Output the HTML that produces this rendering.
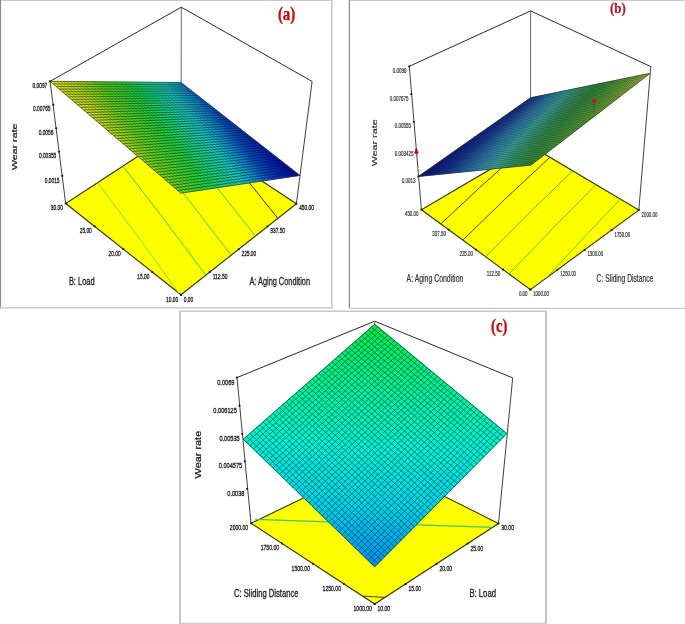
<!DOCTYPE html>
<html><head><meta charset="utf-8"><title>Wear rate response surfaces</title>
<style>
html,body{margin:0;padding:0;background:#fff;}
body{width:685px;height:624px;overflow:hidden;font-family:"Liberation Sans",sans-serif;}
svg{display:block;filter:blur(0.35px);}
</style></head><body>
<svg width="685" height="624" viewBox="0 0 685 624">
<defs><linearGradient id="ga0_0" gradientUnits="userSpaceOnUse" x1="96.3" y1="84.6" x2="68.9" y2="105.7"><stop offset="0.000" stop-color="#68dc1e"/><stop offset="0.083" stop-color="#77dd1e"/><stop offset="0.167" stop-color="#86de1e"/><stop offset="0.250" stop-color="#94df1e"/><stop offset="0.333" stop-color="#a3df1e"/><stop offset="0.417" stop-color="#b2e01e"/><stop offset="0.500" stop-color="#c1e11e"/><stop offset="0.583" stop-color="#c8e21e"/><stop offset="0.667" stop-color="#cde41e"/><stop offset="0.750" stop-color="#d2e51e"/><stop offset="0.833" stop-color="#d7e71e"/><stop offset="0.917" stop-color="#dce91e"/><stop offset="1.000" stop-color="#e2ea1e"/></linearGradient><linearGradient id="ga0_1" gradientUnits="userSpaceOnUse" x1="128.8" y1="111.9" x2="101.2" y2="133.1"><stop offset="0.000" stop-color="#4bdc29"/><stop offset="0.083" stop-color="#54dc25"/><stop offset="0.167" stop-color="#5ddc21"/><stop offset="0.250" stop-color="#67dc1e"/><stop offset="0.333" stop-color="#76dd1e"/><stop offset="0.417" stop-color="#85de1e"/><stop offset="0.500" stop-color="#94de1e"/><stop offset="0.583" stop-color="#a2df1e"/><stop offset="0.667" stop-color="#b1e01e"/><stop offset="0.750" stop-color="#c0e11e"/><stop offset="0.833" stop-color="#c7e21e"/><stop offset="0.917" stop-color="#cce41e"/><stop offset="1.000" stop-color="#d2e51e"/></linearGradient><linearGradient id="ga0_2" gradientUnits="userSpaceOnUse" x1="161.2" y1="139.2" x2="133.4" y2="160.5"><stop offset="0.000" stop-color="#31dc34"/><stop offset="0.083" stop-color="#39dc30"/><stop offset="0.167" stop-color="#42dc2d"/><stop offset="0.250" stop-color="#4bdc29"/><stop offset="0.333" stop-color="#54dc25"/><stop offset="0.417" stop-color="#5cdc21"/><stop offset="0.500" stop-color="#66dc1e"/><stop offset="0.583" stop-color="#75dd1e"/><stop offset="0.667" stop-color="#84de1e"/><stop offset="0.750" stop-color="#93de1e"/><stop offset="0.833" stop-color="#a1df1e"/><stop offset="0.917" stop-color="#b0e01e"/><stop offset="1.000" stop-color="#bfe11e"/></linearGradient><linearGradient id="ga0_3" gradientUnits="userSpaceOnUse" x1="193.6" y1="166.5" x2="165.6" y2="187.9"><stop offset="0.000" stop-color="#1cdc4a"/><stop offset="0.083" stop-color="#1fdc3c"/><stop offset="0.167" stop-color="#27dc38"/><stop offset="0.250" stop-color="#30dc34"/><stop offset="0.333" stop-color="#39dc31"/><stop offset="0.417" stop-color="#42dc2d"/><stop offset="0.500" stop-color="#4adc29"/><stop offset="0.583" stop-color="#53dc25"/><stop offset="0.667" stop-color="#5cdc22"/><stop offset="0.750" stop-color="#65dc1e"/><stop offset="0.833" stop-color="#74dd1e"/><stop offset="0.917" stop-color="#83de1e"/><stop offset="1.000" stop-color="#92de1e"/></linearGradient><linearGradient id="ga1_0" gradientUnits="userSpaceOnUse" x1="128.6" y1="84.3" x2="101.4" y2="105.5"><stop offset="0.000" stop-color="#1ddc46"/><stop offset="0.083" stop-color="#21dc3b"/><stop offset="0.167" stop-color="#2adc37"/><stop offset="0.250" stop-color="#32dc33"/><stop offset="0.333" stop-color="#3bdc30"/><stop offset="0.417" stop-color="#44dc2c"/><stop offset="0.500" stop-color="#4ddc28"/><stop offset="0.583" stop-color="#55dc24"/><stop offset="0.667" stop-color="#5edc20"/><stop offset="0.750" stop-color="#69dc1e"/><stop offset="0.833" stop-color="#78dd1e"/><stop offset="0.917" stop-color="#87de1e"/><stop offset="1.000" stop-color="#95df1e"/></linearGradient><linearGradient id="ga1_1" gradientUnits="userSpaceOnUse" x1="160.3" y1="110.4" x2="132.9" y2="131.7"><stop offset="0.000" stop-color="#17dc74"/><stop offset="0.083" stop-color="#19dc65"/><stop offset="0.167" stop-color="#1bdc56"/><stop offset="0.250" stop-color="#1ddc47"/><stop offset="0.333" stop-color="#20dc3b"/><stop offset="0.417" stop-color="#29dc37"/><stop offset="0.500" stop-color="#32dc34"/><stop offset="0.583" stop-color="#3bdc30"/><stop offset="0.667" stop-color="#43dc2c"/><stop offset="0.750" stop-color="#4cdc28"/><stop offset="0.833" stop-color="#55dc24"/><stop offset="0.917" stop-color="#5edc21"/><stop offset="1.000" stop-color="#68dc1e"/></linearGradient><linearGradient id="ga1_2" gradientUnits="userSpaceOnUse" x1="192" y1="136.5" x2="164.3" y2="157.9"><stop offset="0.000" stop-color="#14d99f"/><stop offset="0.083" stop-color="#14db92"/><stop offset="0.167" stop-color="#15dc84"/><stop offset="0.250" stop-color="#17dc75"/><stop offset="0.333" stop-color="#19dc66"/><stop offset="0.417" stop-color="#1bdc57"/><stop offset="0.500" stop-color="#1cdc48"/><stop offset="0.583" stop-color="#20dc3b"/><stop offset="0.667" stop-color="#28dc38"/><stop offset="0.750" stop-color="#31dc34"/><stop offset="0.833" stop-color="#3adc30"/><stop offset="0.917" stop-color="#43dc2c"/><stop offset="1.000" stop-color="#4bdc29"/></linearGradient><linearGradient id="ga1_3" gradientUnits="userSpaceOnUse" x1="223.6" y1="162.6" x2="195.8" y2="184.1"><stop offset="0.000" stop-color="#14d4c8"/><stop offset="0.083" stop-color="#14d5ba"/><stop offset="0.167" stop-color="#14d7ad"/><stop offset="0.250" stop-color="#14d9a0"/><stop offset="0.333" stop-color="#14db93"/><stop offset="0.417" stop-color="#15dc85"/><stop offset="0.500" stop-color="#17dc76"/><stop offset="0.583" stop-color="#19dc67"/><stop offset="0.667" stop-color="#1adc58"/><stop offset="0.750" stop-color="#1cdc49"/><stop offset="0.833" stop-color="#1fdc3c"/><stop offset="0.917" stop-color="#28dc38"/><stop offset="1.000" stop-color="#31dc34"/></linearGradient><linearGradient id="ga2_0" gradientUnits="userSpaceOnUse" x1="160.9" y1="84" x2="133.8" y2="105.2"><stop offset="0.000" stop-color="#14d4c4"/><stop offset="0.083" stop-color="#14d6b7"/><stop offset="0.167" stop-color="#14d8aa"/><stop offset="0.250" stop-color="#14da9d"/><stop offset="0.333" stop-color="#14dc90"/><stop offset="0.417" stop-color="#15dc81"/><stop offset="0.500" stop-color="#17dc72"/><stop offset="0.583" stop-color="#19dc63"/><stop offset="0.667" stop-color="#1bdc54"/><stop offset="0.750" stop-color="#1ddc45"/><stop offset="0.833" stop-color="#21dc3b"/><stop offset="0.917" stop-color="#2adc37"/><stop offset="1.000" stop-color="#33dc33"/></linearGradient><linearGradient id="ga2_1" gradientUnits="userSpaceOnUse" x1="191.8" y1="108.9" x2="164.6" y2="130.3"><stop offset="0.000" stop-color="#0fb6d7"/><stop offset="0.083" stop-color="#12c4d4"/><stop offset="0.167" stop-color="#14d2d2"/><stop offset="0.250" stop-color="#14d4c5"/><stop offset="0.333" stop-color="#14d6b8"/><stop offset="0.417" stop-color="#14d8ab"/><stop offset="0.500" stop-color="#14da9e"/><stop offset="0.583" stop-color="#14db90"/><stop offset="0.667" stop-color="#15dc82"/><stop offset="0.750" stop-color="#17dc73"/><stop offset="0.833" stop-color="#19dc64"/><stop offset="0.917" stop-color="#1bdc55"/><stop offset="1.000" stop-color="#1ddc46"/></linearGradient><linearGradient id="ga2_2" gradientUnits="userSpaceOnUse" x1="222.7" y1="133.8" x2="195.3" y2="155.3"><stop offset="0.000" stop-color="#0887da"/><stop offset="0.083" stop-color="#0a99dc"/><stop offset="0.167" stop-color="#0da7d9"/><stop offset="0.250" stop-color="#0fb5d7"/><stop offset="0.333" stop-color="#12c3d4"/><stop offset="0.417" stop-color="#14d1d2"/><stop offset="0.500" stop-color="#14d4c6"/><stop offset="0.583" stop-color="#14d6b9"/><stop offset="0.667" stop-color="#14d8ab"/><stop offset="0.750" stop-color="#14d99e"/><stop offset="0.833" stop-color="#14db91"/><stop offset="0.917" stop-color="#15dc83"/><stop offset="1.000" stop-color="#17dc74"/></linearGradient><linearGradient id="ga2_3" gradientUnits="userSpaceOnUse" x1="253.6" y1="158.8" x2="226" y2="180.3"><stop offset="0.000" stop-color="#004fd2"/><stop offset="0.083" stop-color="#0260d4"/><stop offset="0.167" stop-color="#0573d7"/><stop offset="0.250" stop-color="#0886da"/><stop offset="0.333" stop-color="#0a98dc"/><stop offset="0.417" stop-color="#0da6d9"/><stop offset="0.500" stop-color="#0fb4d7"/><stop offset="0.583" stop-color="#11c2d5"/><stop offset="0.667" stop-color="#14d0d2"/><stop offset="0.750" stop-color="#14d4c7"/><stop offset="0.833" stop-color="#14d6ba"/><stop offset="0.917" stop-color="#14d7ac"/><stop offset="1.000" stop-color="#14d99f"/></linearGradient><linearGradient id="ga3_0" gradientUnits="userSpaceOnUse" x1="193.2" y1="83.7" x2="166.3" y2="105"><stop offset="0.000" stop-color="#0052d2"/><stop offset="0.083" stop-color="#0365d5"/><stop offset="0.167" stop-color="#0678d8"/><stop offset="0.250" stop-color="#088bda"/><stop offset="0.333" stop-color="#0b9cdb"/><stop offset="0.417" stop-color="#0daad9"/><stop offset="0.500" stop-color="#10b8d6"/><stop offset="0.583" stop-color="#12c6d4"/><stop offset="0.667" stop-color="#14d2d0"/><stop offset="0.750" stop-color="#14d4c3"/><stop offset="0.833" stop-color="#14d6b6"/><stop offset="0.917" stop-color="#14d8a9"/><stop offset="1.000" stop-color="#14da9c"/></linearGradient><linearGradient id="ga3_1" gradientUnits="userSpaceOnUse" x1="223.4" y1="107.4" x2="196.3" y2="128.8"><stop offset="0.000" stop-color="#0032c7"/><stop offset="0.083" stop-color="#003ccb"/><stop offset="0.167" stop-color="#0046ce"/><stop offset="0.250" stop-color="#0051d2"/><stop offset="0.333" stop-color="#0364d5"/><stop offset="0.417" stop-color="#0677d8"/><stop offset="0.500" stop-color="#088ada"/><stop offset="0.583" stop-color="#0b9bdb"/><stop offset="0.667" stop-color="#0da9d9"/><stop offset="0.750" stop-color="#0fb7d7"/><stop offset="0.833" stop-color="#12c5d4"/><stop offset="0.917" stop-color="#14d2d1"/><stop offset="1.000" stop-color="#14d4c4"/></linearGradient><linearGradient id="ga3_2" gradientUnits="userSpaceOnUse" x1="253.5" y1="131.2" x2="226.2" y2="152.7"><stop offset="0.000" stop-color="#0016ba"/><stop offset="0.083" stop-color="#001cbf"/><stop offset="0.167" stop-color="#0027c3"/><stop offset="0.250" stop-color="#0031c7"/><stop offset="0.333" stop-color="#003bca"/><stop offset="0.417" stop-color="#0046ce"/><stop offset="0.500" stop-color="#0050d2"/><stop offset="0.583" stop-color="#0363d5"/><stop offset="0.667" stop-color="#0575d7"/><stop offset="0.750" stop-color="#0888da"/><stop offset="0.833" stop-color="#0b9adb"/><stop offset="0.917" stop-color="#0da8d9"/><stop offset="1.000" stop-color="#0fb6d7"/></linearGradient><linearGradient id="ga3_3" gradientUnits="userSpaceOnUse" x1="283.7" y1="154.9" x2="256.2" y2="176.5"><stop offset="0.000" stop-color="#0008a9"/><stop offset="0.083" stop-color="#000caf"/><stop offset="0.167" stop-color="#0011b4"/><stop offset="0.250" stop-color="#0016ba"/><stop offset="0.333" stop-color="#001cbf"/><stop offset="0.417" stop-color="#0026c3"/><stop offset="0.500" stop-color="#0030c6"/><stop offset="0.583" stop-color="#003bca"/><stop offset="0.667" stop-color="#0045ce"/><stop offset="0.750" stop-color="#004fd2"/><stop offset="0.833" stop-color="#0261d4"/><stop offset="0.917" stop-color="#0574d7"/><stop offset="1.000" stop-color="#0887da"/></linearGradient><linearGradient id="gb0_0" gradientUnits="userSpaceOnUse" x1="439.8" y1="157.4" x2="453.9" y2="172.8"><stop offset="0.000" stop-color="#0a148c"/><stop offset="0.083" stop-color="#0c188f"/><stop offset="0.167" stop-color="#0d1d93"/><stop offset="0.250" stop-color="#0f2196"/><stop offset="0.333" stop-color="#112599"/><stop offset="0.417" stop-color="#122a9c"/><stop offset="0.500" stop-color="#142ea0"/><stop offset="0.583" stop-color="#1533a3"/><stop offset="0.667" stop-color="#1737a6"/><stop offset="0.750" stop-color="#193ba9"/><stop offset="0.833" stop-color="#1c44ad"/><stop offset="0.917" stop-color="#1f4eb0"/><stop offset="1.000" stop-color="#2258b3"/></linearGradient><linearGradient id="gb0_1" gradientUnits="userSpaceOnUse" x1="467" y1="153.7" x2="483.4" y2="170.1"><stop offset="0.000" stop-color="#193daa"/><stop offset="0.083" stop-color="#1d48ae"/><stop offset="0.167" stop-color="#2052b1"/><stop offset="0.250" stop-color="#235db4"/><stop offset="0.333" stop-color="#2667b7"/><stop offset="0.417" stop-color="#2a72bb"/><stop offset="0.500" stop-color="#2d7cbe"/><stop offset="0.583" stop-color="#3086c1"/><stop offset="0.667" stop-color="#338fc2"/><stop offset="0.750" stop-color="#3596c0"/><stop offset="0.833" stop-color="#389dbd"/><stop offset="0.917" stop-color="#3aa4bb"/><stop offset="1.000" stop-color="#3caab9"/></linearGradient><linearGradient id="gb0_2" gradientUnits="userSpaceOnUse" x1="494.2" y1="150" x2="513" y2="167.2"><stop offset="0.000" stop-color="#3595c0"/><stop offset="0.083" stop-color="#389dbd"/><stop offset="0.167" stop-color="#3aa4bb"/><stop offset="0.250" stop-color="#3cabb9"/><stop offset="0.333" stop-color="#3fb2b6"/><stop offset="0.417" stop-color="#41b9b4"/><stop offset="0.500" stop-color="#40b5a6"/><stop offset="0.583" stop-color="#3fb197"/><stop offset="0.667" stop-color="#3eae89"/><stop offset="0.750" stop-color="#3daa7b"/><stop offset="0.833" stop-color="#3ca66d"/><stop offset="0.917" stop-color="#3ba464"/><stop offset="1.000" stop-color="#3aa25d"/></linearGradient><linearGradient id="gb0_3" gradientUnits="userSpaceOnUse" x1="521.2" y1="146.4" x2="542.7" y2="164.3"><stop offset="0.000" stop-color="#3eac81"/><stop offset="0.083" stop-color="#3da873"/><stop offset="0.167" stop-color="#3ca466"/><stop offset="0.250" stop-color="#3ba25f"/><stop offset="0.333" stop-color="#3aa058"/><stop offset="0.417" stop-color="#399e50"/><stop offset="0.500" stop-color="#389c49"/><stop offset="0.583" stop-color="#399c44"/><stop offset="0.667" stop-color="#3e9e43"/><stop offset="0.750" stop-color="#43a142"/><stop offset="0.833" stop-color="#48a441"/><stop offset="0.917" stop-color="#4ea641"/><stop offset="1.000" stop-color="#53a940"/></linearGradient><linearGradient id="gb1_0" gradientUnits="userSpaceOnUse" x1="468.4" y1="137.6" x2="481.7" y2="152.5"><stop offset="0.000" stop-color="#0e1d93"/><stop offset="0.083" stop-color="#0f2296"/><stop offset="0.167" stop-color="#11269a"/><stop offset="0.250" stop-color="#132b9d"/><stop offset="0.333" stop-color="#1430a1"/><stop offset="0.417" stop-color="#1634a4"/><stop offset="0.500" stop-color="#1839a8"/><stop offset="0.583" stop-color="#1a3fab"/><stop offset="0.667" stop-color="#1d49ae"/><stop offset="0.750" stop-color="#2054b1"/><stop offset="0.833" stop-color="#245eb5"/><stop offset="0.917" stop-color="#2769b8"/><stop offset="1.000" stop-color="#2a73bb"/></linearGradient><linearGradient id="gb1_1" gradientUnits="userSpaceOnUse" x1="496.2" y1="133" x2="511.6" y2="148.9"><stop offset="0.000" stop-color="#2258b3"/><stop offset="0.083" stop-color="#2563b6"/><stop offset="0.167" stop-color="#296eba"/><stop offset="0.250" stop-color="#2c79bd"/><stop offset="0.333" stop-color="#2f84c0"/><stop offset="0.417" stop-color="#338ec2"/><stop offset="0.500" stop-color="#3595c0"/><stop offset="0.583" stop-color="#379cbe"/><stop offset="0.667" stop-color="#3aa3bb"/><stop offset="0.750" stop-color="#3caab9"/><stop offset="0.833" stop-color="#3eb1b7"/><stop offset="0.917" stop-color="#41b8b4"/><stop offset="1.000" stop-color="#40b6a7"/></linearGradient><linearGradient id="gb1_2" gradientUnits="userSpaceOnUse" x1="523.8" y1="128.5" x2="541.6" y2="145.3"><stop offset="0.000" stop-color="#3caab9"/><stop offset="0.083" stop-color="#3fb2b6"/><stop offset="0.167" stop-color="#41b9b3"/><stop offset="0.250" stop-color="#40b5a5"/><stop offset="0.333" stop-color="#3fb196"/><stop offset="0.417" stop-color="#3ead87"/><stop offset="0.500" stop-color="#3da978"/><stop offset="0.583" stop-color="#3ca569"/><stop offset="0.667" stop-color="#3ba362"/><stop offset="0.750" stop-color="#3aa15a"/><stop offset="0.833" stop-color="#399f53"/><stop offset="0.917" stop-color="#389d4c"/><stop offset="1.000" stop-color="#379b44"/></linearGradient><linearGradient id="gb1_3" gradientUnits="userSpaceOnUse" x1="551.4" y1="124.1" x2="571.6" y2="141.6"><stop offset="0.000" stop-color="#3aa25d"/><stop offset="0.083" stop-color="#39a055"/><stop offset="0.167" stop-color="#389e4e"/><stop offset="0.250" stop-color="#379c46"/><stop offset="0.333" stop-color="#3b9d43"/><stop offset="0.417" stop-color="#41a043"/><stop offset="0.500" stop-color="#46a342"/><stop offset="0.583" stop-color="#4ca541"/><stop offset="0.667" stop-color="#51a840"/><stop offset="0.750" stop-color="#57ab3f"/><stop offset="0.833" stop-color="#5cae3e"/><stop offset="0.917" stop-color="#63b03f"/><stop offset="1.000" stop-color="#6db440"/></linearGradient><linearGradient id="gb2_0" gradientUnits="userSpaceOnUse" x1="497" y1="117.8" x2="509.6" y2="132.2"><stop offset="0.000" stop-color="#11279a"/><stop offset="0.083" stop-color="#132c9e"/><stop offset="0.167" stop-color="#1530a1"/><stop offset="0.250" stop-color="#1635a5"/><stop offset="0.333" stop-color="#183aa8"/><stop offset="0.417" stop-color="#1b42ac"/><stop offset="0.500" stop-color="#1e4daf"/><stop offset="0.583" stop-color="#2257b3"/><stop offset="0.667" stop-color="#2562b6"/><stop offset="0.750" stop-color="#286db9"/><stop offset="0.833" stop-color="#2c78bd"/><stop offset="0.917" stop-color="#2f83c0"/><stop offset="1.000" stop-color="#328dc3"/></linearGradient><linearGradient id="gb2_1" gradientUnits="userSpaceOnUse" x1="525.3" y1="112.4" x2="539.9" y2="127.8"><stop offset="0.000" stop-color="#2a73bb"/><stop offset="0.083" stop-color="#2e7ebf"/><stop offset="0.167" stop-color="#318ac2"/><stop offset="0.250" stop-color="#3492c1"/><stop offset="0.333" stop-color="#3699bf"/><stop offset="0.417" stop-color="#39a1bc"/><stop offset="0.500" stop-color="#3ba8ba"/><stop offset="0.583" stop-color="#3eb0b7"/><stop offset="0.667" stop-color="#40b7b5"/><stop offset="0.750" stop-color="#40b6a9"/><stop offset="0.833" stop-color="#3fb29a"/><stop offset="0.917" stop-color="#3eae8c"/><stop offset="1.000" stop-color="#3daa7d"/></linearGradient><linearGradient id="gb2_2" gradientUnits="userSpaceOnUse" x1="553.4" y1="107.1" x2="570.2" y2="123.3"><stop offset="0.000" stop-color="#40b6a7"/><stop offset="0.083" stop-color="#3fb197"/><stop offset="0.167" stop-color="#3ead88"/><stop offset="0.250" stop-color="#3da979"/><stop offset="0.333" stop-color="#3ca569"/><stop offset="0.417" stop-color="#3ba361"/><stop offset="0.500" stop-color="#3aa15a"/><stop offset="0.583" stop-color="#399f52"/><stop offset="0.667" stop-color="#389d4b"/><stop offset="0.750" stop-color="#389b44"/><stop offset="0.833" stop-color="#3d9e43"/><stop offset="0.917" stop-color="#43a142"/><stop offset="1.000" stop-color="#48a441"/></linearGradient><linearGradient id="gb2_3" gradientUnits="userSpaceOnUse" x1="581.5" y1="101.8" x2="600.6" y2="118.8"><stop offset="0.000" stop-color="#379b44"/><stop offset="0.083" stop-color="#3c9e43"/><stop offset="0.167" stop-color="#42a142"/><stop offset="0.250" stop-color="#48a341"/><stop offset="0.333" stop-color="#4da641"/><stop offset="0.417" stop-color="#53a940"/><stop offset="0.500" stop-color="#59ac3f"/><stop offset="0.583" stop-color="#5faf3e"/><stop offset="0.667" stop-color="#68b23f"/><stop offset="0.750" stop-color="#72b540"/><stop offset="0.833" stop-color="#7bb941"/><stop offset="0.917" stop-color="#85bc43"/><stop offset="1.000" stop-color="#8fbf44"/></linearGradient><linearGradient id="gb3_0" gradientUnits="userSpaceOnUse" x1="525.6" y1="98" x2="537.5" y2="111.8"><stop offset="0.000" stop-color="#1530a1"/><stop offset="0.083" stop-color="#1635a5"/><stop offset="0.167" stop-color="#183aa9"/><stop offset="0.250" stop-color="#1b43ac"/><stop offset="0.333" stop-color="#1f4eb0"/><stop offset="0.417" stop-color="#2259b3"/><stop offset="0.500" stop-color="#2665b7"/><stop offset="0.583" stop-color="#2970ba"/><stop offset="0.667" stop-color="#2d7bbe"/><stop offset="0.750" stop-color="#3087c1"/><stop offset="0.833" stop-color="#3390c2"/><stop offset="0.917" stop-color="#3697bf"/><stop offset="1.000" stop-color="#389fbd"/></linearGradient><linearGradient id="gb3_1" gradientUnits="userSpaceOnUse" x1="554.3" y1="91.8" x2="568.1" y2="106.6"><stop offset="0.000" stop-color="#328dc3"/><stop offset="0.083" stop-color="#3595c0"/><stop offset="0.167" stop-color="#389dbd"/><stop offset="0.250" stop-color="#3aa4bb"/><stop offset="0.333" stop-color="#3dacb8"/><stop offset="0.417" stop-color="#3fb4b6"/><stop offset="0.500" stop-color="#41b8af"/><stop offset="0.583" stop-color="#40b4a0"/><stop offset="0.667" stop-color="#3faf90"/><stop offset="0.750" stop-color="#3eab81"/><stop offset="0.833" stop-color="#3da771"/><stop offset="0.917" stop-color="#3ca466"/><stop offset="1.000" stop-color="#3ba25e"/></linearGradient><linearGradient id="gb3_2" gradientUnits="userSpaceOnUse" x1="583" y1="85.6" x2="598.8" y2="101.3"><stop offset="0.000" stop-color="#3daa7d"/><stop offset="0.083" stop-color="#3ca66d"/><stop offset="0.167" stop-color="#3ba363"/><stop offset="0.250" stop-color="#3aa15b"/><stop offset="0.333" stop-color="#399f53"/><stop offset="0.417" stop-color="#389d4b"/><stop offset="0.500" stop-color="#379b44"/><stop offset="0.583" stop-color="#3d9e43"/><stop offset="0.667" stop-color="#43a142"/><stop offset="0.750" stop-color="#49a441"/><stop offset="0.833" stop-color="#4ea741"/><stop offset="0.917" stop-color="#54a940"/><stop offset="1.000" stop-color="#5aac3f"/></linearGradient><linearGradient id="gb3_3" gradientUnits="userSpaceOnUse" x1="611.7" y1="79.5" x2="629.6" y2="96"><stop offset="0.000" stop-color="#48a441"/><stop offset="0.083" stop-color="#4ea741"/><stop offset="0.167" stop-color="#54a940"/><stop offset="0.250" stop-color="#5aac3f"/><stop offset="0.333" stop-color="#60af3e"/><stop offset="0.417" stop-color="#6ab33f"/><stop offset="0.500" stop-color="#74b641"/><stop offset="0.583" stop-color="#7fba42"/><stop offset="0.667" stop-color="#89bd43"/><stop offset="0.750" stop-color="#93c144"/><stop offset="0.833" stop-color="#9ec547"/><stop offset="0.917" stop-color="#a9c949"/><stop offset="1.000" stop-color="#b4cd4b"/></linearGradient><linearGradient id="gc0_0" gradientUnits="userSpaceOnUse" x1="374" y1="381" x2="375.6" y2="323.9"><stop offset="0.000" stop-color="#00f090"/><stop offset="0.083" stop-color="#00ef8a"/><stop offset="0.167" stop-color="#00ef84"/><stop offset="0.250" stop-color="#00ee7e"/><stop offset="0.333" stop-color="#00ee78"/><stop offset="0.417" stop-color="#00ee72"/><stop offset="0.500" stop-color="#00ed6c"/><stop offset="0.583" stop-color="#00ed66"/><stop offset="0.667" stop-color="#00ed60"/><stop offset="0.750" stop-color="#00ec5a"/><stop offset="0.833" stop-color="#00ec54"/><stop offset="0.917" stop-color="#00eb4e"/><stop offset="1.000" stop-color="#00eb48"/></linearGradient><linearGradient id="gc0_1" gradientUnits="userSpaceOnUse" x1="340.3" y1="410.8" x2="343.5" y2="352.7"><stop offset="0.000" stop-color="#00f0b2"/><stop offset="0.083" stop-color="#00f0ad"/><stop offset="0.167" stop-color="#00f0a7"/><stop offset="0.250" stop-color="#00f0a2"/><stop offset="0.333" stop-color="#00f09d"/><stop offset="0.417" stop-color="#00f097"/><stop offset="0.500" stop-color="#00f092"/><stop offset="0.583" stop-color="#00ef8c"/><stop offset="0.667" stop-color="#00ef86"/><stop offset="0.750" stop-color="#00ef80"/><stop offset="0.833" stop-color="#00ee7a"/><stop offset="0.917" stop-color="#00ee74"/><stop offset="1.000" stop-color="#00ee6e"/></linearGradient><linearGradient id="gc0_2" gradientUnits="userSpaceOnUse" x1="306.5" y1="440.6" x2="311.6" y2="381.5"><stop offset="0.000" stop-color="#00f0d4"/><stop offset="0.083" stop-color="#00f0cf"/><stop offset="0.167" stop-color="#00f0ca"/><stop offset="0.250" stop-color="#00f0c4"/><stop offset="0.333" stop-color="#00f0bf"/><stop offset="0.417" stop-color="#00f0ba"/><stop offset="0.500" stop-color="#00f0b4"/><stop offset="0.583" stop-color="#00f0af"/><stop offset="0.667" stop-color="#00f0aa"/><stop offset="0.750" stop-color="#00f0a4"/><stop offset="0.833" stop-color="#00f09f"/><stop offset="0.917" stop-color="#00f09a"/><stop offset="1.000" stop-color="#00f094"/></linearGradient><linearGradient id="gc0_3" gradientUnits="userSpaceOnUse" x1="272.7" y1="470.3" x2="279.6" y2="410.4"><stop offset="0.000" stop-color="#00e0e2"/><stop offset="0.083" stop-color="#00e3e0"/><stop offset="0.167" stop-color="#00e5de"/><stop offset="0.250" stop-color="#00e8dc"/><stop offset="0.333" stop-color="#00ebda"/><stop offset="0.417" stop-color="#00edd9"/><stop offset="0.500" stop-color="#00f0d7"/><stop offset="0.583" stop-color="#00f0d1"/><stop offset="0.667" stop-color="#00f0cc"/><stop offset="0.750" stop-color="#00f0c7"/><stop offset="0.833" stop-color="#00f0c2"/><stop offset="0.917" stop-color="#00f0bc"/><stop offset="1.000" stop-color="#00f0b7"/></linearGradient><linearGradient id="gc1_0" gradientUnits="userSpaceOnUse" x1="407.8" y1="409.5" x2="407.8" y2="351.2"><stop offset="0.000" stop-color="#00f0af"/><stop offset="0.083" stop-color="#00f0a9"/><stop offset="0.167" stop-color="#00f0a4"/><stop offset="0.250" stop-color="#00f09e"/><stop offset="0.333" stop-color="#00f099"/><stop offset="0.417" stop-color="#00f094"/><stop offset="0.500" stop-color="#00ef8e"/><stop offset="0.583" stop-color="#00ef88"/><stop offset="0.667" stop-color="#00ef82"/><stop offset="0.750" stop-color="#00ee7c"/><stop offset="0.833" stop-color="#00ee76"/><stop offset="0.917" stop-color="#00ee70"/><stop offset="1.000" stop-color="#00ed6a"/></linearGradient><linearGradient id="gc1_1" gradientUnits="userSpaceOnUse" x1="374" y1="440.5" x2="375.8" y2="381.1"><stop offset="0.000" stop-color="#00f0d0"/><stop offset="0.083" stop-color="#00f0ca"/><stop offset="0.167" stop-color="#00f0c5"/><stop offset="0.250" stop-color="#00f0c0"/><stop offset="0.333" stop-color="#00f0bb"/><stop offset="0.417" stop-color="#00f0b5"/><stop offset="0.500" stop-color="#00f0b0"/><stop offset="0.583" stop-color="#00f0ab"/><stop offset="0.667" stop-color="#00f0a5"/><stop offset="0.750" stop-color="#00f0a0"/><stop offset="0.833" stop-color="#00f09b"/><stop offset="0.917" stop-color="#00f095"/><stop offset="1.000" stop-color="#00f090"/></linearGradient><linearGradient id="gc1_2" gradientUnits="userSpaceOnUse" x1="340.2" y1="471.4" x2="343.8" y2="411"><stop offset="0.000" stop-color="#00e2e0"/><stop offset="0.083" stop-color="#00e5de"/><stop offset="0.167" stop-color="#00e8dc"/><stop offset="0.250" stop-color="#00ebdb"/><stop offset="0.333" stop-color="#00edd9"/><stop offset="0.417" stop-color="#00f0d7"/><stop offset="0.500" stop-color="#00f0d2"/><stop offset="0.583" stop-color="#00f0cc"/><stop offset="0.667" stop-color="#00f0c7"/><stop offset="0.750" stop-color="#00f0c2"/><stop offset="0.833" stop-color="#00f0bd"/><stop offset="0.917" stop-color="#00f0b7"/><stop offset="1.000" stop-color="#00f0b2"/></linearGradient><linearGradient id="gc1_3" gradientUnits="userSpaceOnUse" x1="306.3" y1="502.3" x2="311.8" y2="441"><stop offset="0.000" stop-color="#00d0eb"/><stop offset="0.083" stop-color="#00d4ea"/><stop offset="0.167" stop-color="#00d7e8"/><stop offset="0.250" stop-color="#00d9e6"/><stop offset="0.333" stop-color="#00dce4"/><stop offset="0.417" stop-color="#00dfe3"/><stop offset="0.500" stop-color="#00e1e1"/><stop offset="0.583" stop-color="#00e4df"/><stop offset="0.667" stop-color="#00e7dd"/><stop offset="0.750" stop-color="#00e9db"/><stop offset="0.833" stop-color="#00ecda"/><stop offset="0.917" stop-color="#00efd8"/><stop offset="1.000" stop-color="#00f0d4"/></linearGradient><linearGradient id="gc2_0" gradientUnits="userSpaceOnUse" x1="441.6" y1="438" x2="440.1" y2="378.5"><stop offset="0.000" stop-color="#00f0cd"/><stop offset="0.083" stop-color="#00f0c8"/><stop offset="0.167" stop-color="#00f0c2"/><stop offset="0.250" stop-color="#00f0bd"/><stop offset="0.333" stop-color="#00f0b8"/><stop offset="0.417" stop-color="#00f0b2"/><stop offset="0.500" stop-color="#00f0ad"/><stop offset="0.583" stop-color="#00f0a8"/><stop offset="0.667" stop-color="#00f0a3"/><stop offset="0.750" stop-color="#00f09d"/><stop offset="0.833" stop-color="#00f098"/><stop offset="0.917" stop-color="#00f092"/><stop offset="1.000" stop-color="#00ef8c"/></linearGradient><linearGradient id="gc2_1" gradientUnits="userSpaceOnUse" x1="407.8" y1="470.1" x2="408" y2="409.5"><stop offset="0.000" stop-color="#00e4df"/><stop offset="0.083" stop-color="#00e7dd"/><stop offset="0.167" stop-color="#00eadb"/><stop offset="0.250" stop-color="#00edd9"/><stop offset="0.333" stop-color="#00efd8"/><stop offset="0.417" stop-color="#00f0d3"/><stop offset="0.500" stop-color="#00f0ce"/><stop offset="0.583" stop-color="#00f0c9"/><stop offset="0.667" stop-color="#00f0c4"/><stop offset="0.750" stop-color="#00f0be"/><stop offset="0.833" stop-color="#00f0b9"/><stop offset="0.917" stop-color="#00f0b4"/><stop offset="1.000" stop-color="#00f0af"/></linearGradient><linearGradient id="gc2_2" gradientUnits="userSpaceOnUse" x1="373.9" y1="502.3" x2="375.9" y2="440.5"><stop offset="0.000" stop-color="#00d4ea"/><stop offset="0.083" stop-color="#00d6e8"/><stop offset="0.167" stop-color="#00d9e6"/><stop offset="0.250" stop-color="#00dce5"/><stop offset="0.333" stop-color="#00dee3"/><stop offset="0.417" stop-color="#00e1e1"/><stop offset="0.500" stop-color="#00e4df"/><stop offset="0.583" stop-color="#00e6dd"/><stop offset="0.667" stop-color="#00e9dc"/><stop offset="0.750" stop-color="#00ecda"/><stop offset="0.833" stop-color="#00eed8"/><stop offset="0.917" stop-color="#00f0d5"/><stop offset="1.000" stop-color="#00f0d0"/></linearGradient><linearGradient id="gc2_3" gradientUnits="userSpaceOnUse" x1="339.9" y1="534.3" x2="343.9" y2="471.6"><stop offset="0.000" stop-color="#00aeee"/><stop offset="0.083" stop-color="#00b4ed"/><stop offset="0.167" stop-color="#00bbed"/><stop offset="0.250" stop-color="#00c1ec"/><stop offset="0.333" stop-color="#00c7ec"/><stop offset="0.417" stop-color="#00cdeb"/><stop offset="0.500" stop-color="#00d3eb"/><stop offset="0.583" stop-color="#00d5e9"/><stop offset="0.667" stop-color="#00d8e7"/><stop offset="0.750" stop-color="#00dbe5"/><stop offset="0.833" stop-color="#00dde4"/><stop offset="0.917" stop-color="#00e0e2"/><stop offset="1.000" stop-color="#00e2e0"/></linearGradient><linearGradient id="gc3_0" gradientUnits="userSpaceOnUse" x1="475.4" y1="466.4" x2="472.3" y2="405.9"><stop offset="0.000" stop-color="#00e6de"/><stop offset="0.083" stop-color="#00e8dc"/><stop offset="0.167" stop-color="#00ebda"/><stop offset="0.250" stop-color="#00eed9"/><stop offset="0.333" stop-color="#00f0d6"/><stop offset="0.417" stop-color="#00f0d1"/><stop offset="0.500" stop-color="#00f0cc"/><stop offset="0.583" stop-color="#00f0c7"/><stop offset="0.667" stop-color="#00f0c1"/><stop offset="0.750" stop-color="#00f0bc"/><stop offset="0.833" stop-color="#00f0b7"/><stop offset="0.917" stop-color="#00f0b2"/><stop offset="1.000" stop-color="#00f0ac"/></linearGradient><linearGradient id="gc3_1" gradientUnits="userSpaceOnUse" x1="441.6" y1="499.7" x2="440.1" y2="438"><stop offset="0.000" stop-color="#00d5e9"/><stop offset="0.083" stop-color="#00d8e7"/><stop offset="0.167" stop-color="#00dae5"/><stop offset="0.250" stop-color="#00dde4"/><stop offset="0.333" stop-color="#00e0e2"/><stop offset="0.417" stop-color="#00e2e0"/><stop offset="0.500" stop-color="#00e5de"/><stop offset="0.583" stop-color="#00e8dc"/><stop offset="0.667" stop-color="#00eadb"/><stop offset="0.750" stop-color="#00edd9"/><stop offset="0.833" stop-color="#00f0d7"/><stop offset="0.917" stop-color="#00f0d2"/><stop offset="1.000" stop-color="#00f0cd"/></linearGradient><linearGradient id="gc3_2" gradientUnits="userSpaceOnUse" x1="407.6" y1="533" x2="408" y2="470.1"><stop offset="0.000" stop-color="#00b2ed"/><stop offset="0.083" stop-color="#00b9ed"/><stop offset="0.167" stop-color="#00bfec"/><stop offset="0.250" stop-color="#00c5ec"/><stop offset="0.333" stop-color="#00cbeb"/><stop offset="0.417" stop-color="#00d1eb"/><stop offset="0.500" stop-color="#00d4e9"/><stop offset="0.583" stop-color="#00d7e8"/><stop offset="0.667" stop-color="#00dae6"/><stop offset="0.750" stop-color="#00dce4"/><stop offset="0.833" stop-color="#00dfe2"/><stop offset="0.917" stop-color="#00e2e1"/><stop offset="1.000" stop-color="#00e4df"/></linearGradient><linearGradient id="gc3_3" gradientUnits="userSpaceOnUse" x1="373.6" y1="566.3" x2="376" y2="502.3"><stop offset="0.000" stop-color="#008cf0"/><stop offset="0.083" stop-color="#0092f0"/><stop offset="0.167" stop-color="#0098ef"/><stop offset="0.250" stop-color="#009eef"/><stop offset="0.333" stop-color="#00a5ee"/><stop offset="0.417" stop-color="#00abee"/><stop offset="0.500" stop-color="#00b1ed"/><stop offset="0.583" stop-color="#00b7ed"/><stop offset="0.667" stop-color="#00bdec"/><stop offset="0.750" stop-color="#00c3ec"/><stop offset="0.833" stop-color="#00c9ec"/><stop offset="0.917" stop-color="#00cfeb"/><stop offset="1.000" stop-color="#00d4ea"/></linearGradient></defs>
<rect x="0" y="0" width="685" height="624" fill="#ffffff"/>
<line x1="0" y1="0.5" x2="332.5" y2="0.5" stroke="#c6c6c6" stroke-width="1.1"/>
<line x1="0.5" y1="0" x2="0.5" y2="308.5" stroke="#8a8a8a" stroke-width="1.1"/>
<line x1="331.8" y1="0" x2="331.8" y2="308.5" stroke="#c8c8c8" stroke-width="1.6"/>
<line x1="0" y1="307.7" x2="332.5" y2="307.7" stroke="#cdcdcd" stroke-width="1.6"/>
<line x1="349" y1="0.5" x2="685" y2="0.5" stroke="#c6c6c6" stroke-width="1.1"/>
<line x1="349.4" y1="0" x2="349.4" y2="309" stroke="#8a8a8a" stroke-width="1.2"/>
<line x1="684.5" y1="0" x2="684.5" y2="309" stroke="#ededed" stroke-width="1.0"/>
<line x1="349" y1="308.4" x2="685" y2="308.4" stroke="#c8c8c8" stroke-width="1.2"/>
<line x1="179" y1="311.2" x2="547" y2="311.2" stroke="#c8c8c8" stroke-width="1.6"/>
<line x1="180" y1="311" x2="180" y2="624" stroke="#c8c8c8" stroke-width="2.0"/>
<line x1="546" y1="311" x2="546" y2="624" stroke="#c2c2c2" stroke-width="2.0"/>
<line x1="179" y1="623.4" x2="547" y2="623.4" stroke="#cccccc" stroke-width="1.4"/>
<line x1="50.1" y1="81.3" x2="181.3" y2="7.2" stroke="#2a2a2a" stroke-width="1.0"/>
<line x1="181.3" y1="7.2" x2="312.1" y2="81.4" stroke="#2a2a2a" stroke-width="1.0"/>
<line x1="181.3" y1="7.2" x2="181.2" y2="83" stroke="#6a6a6a" stroke-width="1.0"/>
<line x1="312.1" y1="81.4" x2="296.4" y2="203.7" stroke="#2a2a2a" stroke-width="0.9"/>
<polygon points="65.7,203.5 181,294.8 296.4,203.7 181.2,128" fill="#ffff00" stroke="#333300" stroke-width="1.1"/>
<path d="M97.5 182.7 L138.2 236.9 L178.9 293.2" stroke="#7ed844" stroke-width="1.0" fill="none"/>
<path d="M122.9 166.1 L164.3 219.6 L205.8 275.2" stroke="#3ccc3c" stroke-width="1.0" fill="none"/>
<path d="M148.3 149.5 L189.7 201.3 L231.2 255.2" stroke="#44d048" stroke-width="1.0" fill="none"/>
<path d="M172.5 133.7 L214 183.8 L255.4 236" stroke="#48c868" stroke-width="1.0" fill="none"/>
<path d="M230.6 160.4 L254.3 189 L277.9 218.3" stroke="#3a3a08" stroke-width="1.0" fill="none"/>
<polygon points="50.1,81.3 82.8,81.6 114.8,108.4 82.8,109.2" fill="url(#ga0_0)" stroke="url(#ga0_0)" stroke-width="0.7"/>
<polygon points="82.8,109.2 114.8,108.4 146.7,135.2 115.5,137.2" fill="url(#ga0_1)" stroke="url(#ga0_1)" stroke-width="0.7"/>
<polygon points="115.5,137.2 146.7,135.2 178.7,161.9 148.2,165.1" fill="url(#ga0_2)" stroke="url(#ga0_2)" stroke-width="0.7"/>
<polygon points="148.2,165.1 178.7,161.9 210.6,188.7 180.9,193.1" fill="url(#ga0_3)" stroke="url(#ga0_3)" stroke-width="0.7"/>
<polygon points="82.8,81.6 115.6,81.9 146.8,107.5 114.8,108.4" fill="url(#ga1_0)" stroke="url(#ga1_0)" stroke-width="0.7"/>
<polygon points="114.8,108.4 146.8,107.5 178,133.1 146.7,135.2" fill="url(#ga1_1)" stroke="url(#ga1_1)" stroke-width="0.7"/>
<polygon points="146.7,135.2 178,133.1 209.2,158.7 178.7,161.9" fill="url(#ga1_2)" stroke="url(#ga1_2)" stroke-width="0.7"/>
<polygon points="178.7,161.9 209.2,158.7 240.4,184.2 210.6,188.7" fill="url(#ga1_3)" stroke="url(#ga1_3)" stroke-width="0.7"/>
<polygon points="115.6,81.9 148.3,82.3 178.8,106.7 146.8,107.5" fill="url(#ga2_0)" stroke="url(#ga2_0)" stroke-width="0.7"/>
<polygon points="146.8,107.5 178.8,106.7 209.2,131 178,133.1" fill="url(#ga2_1)" stroke="url(#ga2_1)" stroke-width="0.7"/>
<polygon points="178,133.1 209.2,131 239.6,155.4 209.2,158.7" fill="url(#ga2_2)" stroke="url(#ga2_2)" stroke-width="0.7"/>
<polygon points="209.2,158.7 239.6,155.4 270.1,179.8 240.4,184.2" fill="url(#ga2_3)" stroke="url(#ga2_3)" stroke-width="0.7"/>
<polygon points="148.3,82.3 181.1,82.6 210.8,105.8 178.8,106.7" fill="url(#ga3_0)" stroke="url(#ga3_0)" stroke-width="0.7"/>
<polygon points="178.8,106.7 210.8,105.8 240.4,129 209.2,131" fill="url(#ga3_1)" stroke="url(#ga3_1)" stroke-width="0.7"/>
<polygon points="209.2,131 240.4,129 270.1,152.2 239.6,155.4" fill="url(#ga3_2)" stroke="url(#ga3_2)" stroke-width="0.7"/>
<polygon points="239.6,155.4 270.1,152.2 299.8,175.4 270.1,179.8" fill="url(#ga3_3)" stroke="url(#ga3_3)" stroke-width="0.7"/>
<path d="M53.5 81.3L183.9 192.6M56.8 81.4L187 192.2M60.2 81.4L190 191.7M63.5 81.4L193.1 191.3M66.9 81.5L196.1 190.8M70.3 81.5L199.2 190.4M73.6 81.5L202.2 189.9M77 81.6L205.3 189.5M80.3 81.6L208.3 189M83.7 81.6L211.4 188.6M87 81.7L214.4 188.1M90.4 81.7L217.5 187.7M93.8 81.7L220.5 187.2M97.1 81.8L223.6 186.7M100.5 81.8L226.6 186.3M103.8 81.8L229.7 185.8M107.2 81.9L232.7 185.4M110.6 81.9L235.8 184.9M113.9 81.9L238.8 184.5M117.3 82L241.9 184M120.6 82L244.9 183.6M124 82L248 183.1M127.4 82.1L251 182.7M130.7 82.1L254.1 182.2M134.1 82.1L257.1 181.8M137.4 82.2L260.2 181.3M140.8 82.2L263.2 180.8M144.2 82.2L266.3 180.4M147.5 82.3L269.3 179.9M150.9 82.3L272.4 179.5M154.2 82.3L275.4 179M157.6 82.4L278.5 178.6M160.9 82.4L281.5 178.1M164.3 82.4L284.6 177.7M167.7 82.5L287.6 177.2M171 82.5L290.7 176.8M174.4 82.5L293.7 176.3M177.7 82.6L296.8 175.9" stroke="#101008" stroke-width="0.65" stroke-opacity="0.4" fill="none"/>
<path d="M53.1 83.9L183.9 84.8M56.2 86.5L186.6 86.9M59.2 89.1L189.4 89.1M62.3 91.7L192.1 91.2M65.3 94.3L194.9 93.4M68.4 96.9L197.7 95.5M71.4 99.5L200.4 97.7M74.4 102.1L203.2 99.9M77.5 104.7L205.9 102M80.5 107.3L208.7 104.2M83.6 109.9L211.5 106.3M86.6 112.5L214.2 108.5M89.6 115.1L217 110.7M92.7 117.7L219.7 112.8M95.7 120.3L222.5 115M98.8 122.9L225.3 117.1M101.8 125.5L228 119.3M104.9 128.1L230.8 121.4M107.9 130.7L233.5 123.6M110.9 133.3L236.3 125.8M114 135.9L239.1 127.9M117 138.5L241.8 130.1M120.1 141.1L244.6 132.2M123.1 143.7L247.4 134.4M126.1 146.3L250.1 136.6M129.2 148.9L252.9 138.7M132.2 151.5L255.6 140.9M135.3 154.1L258.4 143M138.3 156.7L261.2 145.2M141.4 159.3L263.9 147.3M144.4 161.9L266.7 149.5M147.4 164.5L269.4 151.7M150.5 167.1L272.2 153.8M153.5 169.7L275 156M156.6 172.3L277.7 158.1M159.6 174.9L280.5 160.3M162.6 177.5L283.2 162.5M165.7 180.1L286 164.6M168.7 182.7L288.8 166.8M171.8 185.3L291.5 168.9M174.8 187.9L294.3 171.1M177.9 190.5L297 173.2" stroke="#101008" stroke-width="0.65" stroke-opacity="0.8" fill="none"/>
<polygon points="50.1,81.3 181.1,82.6 299.8,175.4 180.9,193.1" fill="none" stroke="#303020" stroke-width="0.7"/>
<line x1="50.1" y1="81.3" x2="65.7" y2="203.5" stroke="#2a2a2a" stroke-width="0.9"/>
<rect x="49.2" y="80.4" width="1.8" height="1.8" fill="#111"/>
<text x="32.6" y="88" font-family="Liberation Sans" font-size="7.3" font-weight="normal" fill="#202020" text-anchor="start" textLength="14.7" lengthAdjust="spacingAndGlyphs" stroke="#202020" stroke-width="0.32">0.0097</text>
<rect x="52.4" y="103.8" width="1.8" height="1.8" fill="#111"/>
<text x="33.1" y="111.4" font-family="Liberation Sans" font-size="7.3" font-weight="normal" fill="#202020" text-anchor="start" textLength="17.4" lengthAdjust="spacingAndGlyphs" stroke="#202020" stroke-width="0.32">0.00765</text>
<rect x="55.3" y="127.4" width="1.8" height="1.8" fill="#111"/>
<text x="38.7" y="135" font-family="Liberation Sans" font-size="7.3" font-weight="normal" fill="#202020" text-anchor="start" textLength="14.7" lengthAdjust="spacingAndGlyphs" stroke="#202020" stroke-width="0.32">0.0056</text>
<rect x="58.2" y="150.8" width="1.8" height="1.8" fill="#111"/>
<text x="38.9" y="158.4" font-family="Liberation Sans" font-size="7.3" font-weight="normal" fill="#202020" text-anchor="start" textLength="17.4" lengthAdjust="spacingAndGlyphs" stroke="#202020" stroke-width="0.32">0.00355</text>
<rect x="61.4" y="174.9" width="1.8" height="1.8" fill="#111"/>
<text x="44.8" y="182.5" font-family="Liberation Sans" font-size="7.3" font-weight="normal" fill="#202020" text-anchor="start" textLength="14.7" lengthAdjust="spacingAndGlyphs" stroke="#202020" stroke-width="0.32">0.0015</text>
<rect x="64.8" y="202.6" width="1.8" height="1.8" fill="#111"/>
<text x="50.8" y="210.2" font-family="Liberation Sans" font-size="7.3" font-weight="normal" fill="#202020" text-anchor="start" textLength="12.1" lengthAdjust="spacingAndGlyphs" stroke="#202020" stroke-width="0.32">30.00</text>
<rect x="93.6" y="225.4" width="1.8" height="1.8" fill="#111"/>
<text x="79.7" y="233.1" font-family="Liberation Sans" font-size="7.3" font-weight="normal" fill="#202020" text-anchor="start" textLength="12.1" lengthAdjust="spacingAndGlyphs" stroke="#202020" stroke-width="0.32">25.00</text>
<rect x="122.4" y="248.2" width="1.8" height="1.8" fill="#111"/>
<text x="108.5" y="255.9" font-family="Liberation Sans" font-size="7.3" font-weight="normal" fill="#202020" text-anchor="start" textLength="12.1" lengthAdjust="spacingAndGlyphs" stroke="#202020" stroke-width="0.32">20.00</text>
<rect x="151.3" y="271.1" width="1.8" height="1.8" fill="#111"/>
<text x="137.3" y="278.7" font-family="Liberation Sans" font-size="7.3" font-weight="normal" fill="#202020" text-anchor="start" textLength="12.1" lengthAdjust="spacingAndGlyphs" stroke="#202020" stroke-width="0.32">15.00</text>
<rect x="180.1" y="293.9" width="1.8" height="1.8" fill="#111"/>
<text x="166.1" y="301.5" font-family="Liberation Sans" font-size="7.3" font-weight="normal" fill="#202020" text-anchor="start" textLength="12.1" lengthAdjust="spacingAndGlyphs" stroke="#202020" stroke-width="0.32">10.00</text>
<rect x="180.1" y="293.9" width="1.8" height="1.8" fill="#111"/>
<text x="183.8" y="301.5" font-family="Liberation Sans" font-size="7.3" font-weight="normal" fill="#202020" text-anchor="start" textLength="9.4" lengthAdjust="spacingAndGlyphs" stroke="#202020" stroke-width="0.32">0.00</text>
<rect x="208.9" y="271.1" width="1.8" height="1.8" fill="#111"/>
<text x="212.7" y="278.8" font-family="Liberation Sans" font-size="7.3" font-weight="normal" fill="#202020" text-anchor="start" textLength="14.7" lengthAdjust="spacingAndGlyphs" stroke="#202020" stroke-width="0.32">112.50</text>
<rect x="237.8" y="248.3" width="1.8" height="1.8" fill="#111"/>
<text x="241.5" y="256" font-family="Liberation Sans" font-size="7.3" font-weight="normal" fill="#202020" text-anchor="start" textLength="14.7" lengthAdjust="spacingAndGlyphs" stroke="#202020" stroke-width="0.32">225.00</text>
<rect x="266.6" y="225.6" width="1.8" height="1.8" fill="#111"/>
<text x="270.3" y="233.2" font-family="Liberation Sans" font-size="7.3" font-weight="normal" fill="#202020" text-anchor="start" textLength="14.7" lengthAdjust="spacingAndGlyphs" stroke="#202020" stroke-width="0.32">337.50</text>
<rect x="295.5" y="202.8" width="1.8" height="1.8" fill="#111"/>
<text x="299.2" y="210.4" font-family="Liberation Sans" font-size="7.3" font-weight="normal" fill="#202020" text-anchor="start" textLength="14.7" lengthAdjust="spacingAndGlyphs" stroke="#202020" stroke-width="0.32">450.00</text>
<text x="68.9" y="285.1" font-family="Liberation Sans" font-size="11.3" font-weight="normal" fill="#202020" text-anchor="start" textLength="25.7" lengthAdjust="spacingAndGlyphs" stroke="#202020" stroke-width="0.32">B: Load</text>
<text x="249.4" y="285.1" font-family="Liberation Sans" font-size="11.3" font-weight="normal" fill="#202020" text-anchor="start" textLength="60.6" lengthAdjust="spacingAndGlyphs" stroke="#202020" stroke-width="0.32">A: Aging Condition</text>
<text transform="translate(16.9,170) scale(0.66,1) rotate(-90)" font-family="Liberation Sans" font-size="11.3" font-weight="normal" fill="#202020" text-anchor="start" textLength="46.4" lengthAdjust="spacingAndGlyphs" stroke="#202020" stroke-width="0.32">Wear rate</text>
<text x="277.9" y="20" font-family="Liberation Serif" font-size="18.5" font-weight="bold" fill="#c40c10" text-anchor="start" textLength="17.4" lengthAdjust="spacingAndGlyphs" stroke="#c40c10" stroke-width="0.35">(a)</text>
<line x1="409.3" y1="66.3" x2="530.6" y2="10.9" stroke="#2a2a2a" stroke-width="1.0"/>
<line x1="530.6" y1="10.9" x2="650.8" y2="66.6" stroke="#2a2a2a" stroke-width="1.0"/>
<line x1="530.6" y1="10.9" x2="530.6" y2="98" stroke="#6a6a6a" stroke-width="1.0"/>
<line x1="650.8" y1="66.6" x2="638.8" y2="210.1" stroke="#2a2a2a" stroke-width="0.9"/>
<polygon points="421.4,209.7 530.4,289.6 638.8,210.1 530.4,145.7" fill="#ffff00" stroke="#333300" stroke-width="1.1"/>
<path d="M440.8 223.9 L479.6 187.7 L518.4 152.7" stroke="#33330a" stroke-width="0.9" fill="none"/>
<path d="M462.8 240.1 L506.3 197.9 L549.9 157.3" stroke="#3a3a0a" stroke-width="0.9" fill="none"/>
<path d="M485.7 256.8 L529.2 213.1 L572.7 170.8" stroke="#40b050" stroke-width="0.9" fill="none"/>
<path d="M509.1 274 L552.5 228.6 L596 184.7" stroke="#48bc48" stroke-width="0.9" fill="none"/>
<path d="M546.7 277.7 L583.5 237.9 L620.4 199.2" stroke="#58c440" stroke-width="0.9" fill="none"/>
<polygon points="418.5,176.4 446.5,156.8 475.1,153.1 446.6,173.6" fill="url(#gb0_0)" stroke="url(#gb0_0)" stroke-width="0.7"/>
<polygon points="446.6,173.6 475.1,153.1 503.7,149.4 474.8,170.7" fill="url(#gb0_1)" stroke="url(#gb0_1)" stroke-width="0.7"/>
<polygon points="474.8,170.7 503.7,149.4 532.2,145.7 502.9,167.8" fill="url(#gb0_2)" stroke="url(#gb0_2)" stroke-width="0.7"/>
<polygon points="502.9,167.8 532.2,145.7 560.8,142.1 531,165" fill="url(#gb0_3)" stroke="url(#gb0_3)" stroke-width="0.7"/>
<polygon points="446.5,156.8 474.6,137.1 503.6,132.6 475.1,153.1" fill="url(#gb1_0)" stroke="url(#gb1_0)" stroke-width="0.7"/>
<polygon points="475.1,153.1 503.6,132.6 532.6,128.1 503.7,149.4" fill="url(#gb1_1)" stroke="url(#gb1_1)" stroke-width="0.7"/>
<polygon points="503.7,149.4 532.6,128.1 561.6,123.6 532.2,145.7" fill="url(#gb1_2)" stroke="url(#gb1_2)" stroke-width="0.7"/>
<polygon points="532.2,145.7 561.6,123.6 590.6,119.2 560.8,142.1" fill="url(#gb1_3)" stroke="url(#gb1_3)" stroke-width="0.7"/>
<polygon points="474.6,137.1 502.6,117.5 532,112.1 503.6,132.6" fill="url(#gb2_0)" stroke="url(#gb2_0)" stroke-width="0.7"/>
<polygon points="503.6,132.6 532,112.1 561.5,106.8 532.6,128.1" fill="url(#gb2_1)" stroke="url(#gb2_1)" stroke-width="0.7"/>
<polygon points="532.6,128.1 561.5,106.8 590.9,101.5 561.6,123.6" fill="url(#gb2_2)" stroke="url(#gb2_2)" stroke-width="0.7"/>
<polygon points="561.6,123.6 590.9,101.5 620.4,96.2 590.6,119.2" fill="url(#gb2_3)" stroke="url(#gb2_3)" stroke-width="0.7"/>
<polygon points="502.6,117.5 530.6,97.8 560.5,91.7 532,112.1" fill="url(#gb3_0)" stroke="url(#gb3_0)" stroke-width="0.7"/>
<polygon points="532,112.1 560.5,91.7 590.4,85.5 561.5,106.8" fill="url(#gb3_1)" stroke="url(#gb3_1)" stroke-width="0.7"/>
<polygon points="561.5,106.8 590.4,85.5 620.3,79.4 590.9,101.5" fill="url(#gb3_2)" stroke="url(#gb3_2)" stroke-width="0.7"/>
<polygon points="590.9,101.5 620.3,79.4 650.2,73.3 620.4,96.2" fill="url(#gb3_3)" stroke="url(#gb3_3)" stroke-width="0.7"/>
<path d="M421.3 174.4L534 162.7M424.1 172.5L537 160.4M426.9 170.5L539.9 158.1M429.7 168.5L542.9 155.8M432.5 166.6L545.9 153.5M435.3 164.6L548.9 151.2M438.1 162.6L551.9 149M440.9 160.7L554.8 146.7M443.7 158.7L557.8 144.4M446.5 156.8L560.8 142.1M449.3 154.8L563.8 139.8M452.1 152.8L566.8 137.5M454.9 150.9L569.7 135.2M457.7 148.9L572.7 132.9M460.5 146.9L575.7 130.6M463.3 145L578.7 128.3M466.1 143L581.7 126M468.9 141L584.6 123.7M471.7 139.1L587.6 121.4M474.6 137.1L590.6 119.2M477.4 135.1L593.6 116.9M480.2 133.2L596.6 114.6M483 131.2L599.5 112.3M485.8 129.2L602.5 110M488.6 127.3L605.5 107.7M491.4 125.3L608.5 105.4M494.2 123.3L611.5 103.1M497 121.4L614.4 100.8M499.8 119.4L617.4 98.5M502.6 117.5L620.4 96.2M505.4 115.5L623.4 93.9M508.2 113.5L626.4 91.6M511 111.6L629.3 89.3M513.8 109.6L632.3 87.1M516.6 107.6L635.3 84.8M519.4 105.7L638.3 82.5M522.2 103.7L641.3 80.2M525 101.7L644.2 77.9M527.8 99.8L647.2 75.6" stroke="#101010" stroke-width="0.6" stroke-opacity="0.45" fill="none"/>
<path d="M421.3 176.1L533.6 97.2M424.1 175.8L536.6 96.6M426.9 175.5L539.6 96M429.8 175.3L542.6 95.3M432.6 175L545.6 94.7M435.4 174.7L548.5 94.1M438.2 174.4L551.5 93.5M441 174.1L554.5 92.9M443.8 173.8L557.5 92.3M446.6 173.6L560.5 91.7M449.4 173.3L563.5 91.1M452.2 173L566.5 90.5M455.1 172.7L569.5 89.8M457.9 172.4L572.5 89.2M460.7 172.1L575.5 88.6M463.5 171.8L578.4 88M466.3 171.6L581.4 87.4M469.1 171.3L584.4 86.8M471.9 171L587.4 86.2M474.8 170.7L590.4 85.5M477.6 170.4L593.4 84.9M480.4 170.1L596.4 84.3M483.2 169.8L599.4 83.7M486 169.6L602.4 83.1M488.8 169.3L605.4 82.5M491.6 169L608.3 81.9M494.4 168.7L611.3 81.3M497.2 168.4L614.3 80.7M500.1 168.1L617.3 80M502.9 167.8L620.3 79.4M505.7 167.6L623.3 78.8M508.5 167.3L626.3 78.2M511.3 167L629.3 77.6M514.1 166.7L632.3 77M516.9 166.4L635.2 76.4M519.8 166.1L638.2 75.8M522.6 165.9L641.2 75.1M525.4 165.6L644.2 74.5M528.2 165.3L647.2 73.9" stroke="#101010" stroke-width="0.6" stroke-opacity="0.45" fill="none"/>
<polygon points="418.5,176.4 530.6,97.8 650.2,73.3 531,165" fill="none" stroke="#202818" stroke-width="0.7"/>
<line x1="409.3" y1="66.3" x2="421.4" y2="209.7" stroke="#2a2a2a" stroke-width="0.9"/>
<rect x="408.4" y="65.4" width="1.8" height="1.8" fill="#111"/>
<text x="392.8" y="72.8" font-family="Liberation Sans" font-size="7.0" font-weight="normal" fill="#2c2c2c" text-anchor="start" textLength="13.7" lengthAdjust="spacingAndGlyphs" stroke="#2c2c2c" stroke-width="0.2">0.0098</text>
<rect x="410.4" y="93.1" width="1.8" height="1.8" fill="#111"/>
<text x="389.8" y="100.5" font-family="Liberation Sans" font-size="7.0" font-weight="normal" fill="#2c2c2c" text-anchor="start" textLength="18.7" lengthAdjust="spacingAndGlyphs" stroke="#2c2c2c" stroke-width="0.2">0.007675</text>
<rect x="412.9" y="121" width="1.8" height="1.8" fill="#111"/>
<text x="394.8" y="128.4" font-family="Liberation Sans" font-size="7.0" font-weight="normal" fill="#2c2c2c" text-anchor="start" textLength="16.2" lengthAdjust="spacingAndGlyphs" stroke="#2c2c2c" stroke-width="0.2">0.00555</text>
<rect x="415.3" y="148.6" width="1.8" height="1.8" fill="#111"/>
<text x="394.7" y="156" font-family="Liberation Sans" font-size="7.0" font-weight="normal" fill="#2c2c2c" text-anchor="start" textLength="18.7" lengthAdjust="spacingAndGlyphs" stroke="#2c2c2c" stroke-width="0.2">0.003425</text>
<rect x="417.4" y="175.6" width="1.8" height="1.8" fill="#111"/>
<text x="401.8" y="183" font-family="Liberation Sans" font-size="7.0" font-weight="normal" fill="#2c2c2c" text-anchor="start" textLength="13.7" lengthAdjust="spacingAndGlyphs" stroke="#2c2c2c" stroke-width="0.2">0.0013</text>
<circle cx="416.4" cy="152.3" r="2" fill="#d01010"/>
<line x1="594.1" y1="102" x2="593.6" y2="113" stroke="#303020" stroke-width="0.6" stroke-opacity="0.6"/>
<circle cx="594.1" cy="100.8" r="2.1" fill="#d01010"/>
<rect x="420.5" y="208.8" width="1.8" height="1.8" fill="#111"/>
<text x="404.9" y="216.2" font-family="Liberation Sans" font-size="7.0" font-weight="normal" fill="#2c2c2c" text-anchor="start" textLength="13.7" lengthAdjust="spacingAndGlyphs" stroke="#2c2c2c" stroke-width="0.2">450.00</text>
<rect x="447.8" y="228.8" width="1.8" height="1.8" fill="#111"/>
<text x="432.2" y="236.2" font-family="Liberation Sans" font-size="7.0" font-weight="normal" fill="#2c2c2c" text-anchor="start" textLength="13.7" lengthAdjust="spacingAndGlyphs" stroke="#2c2c2c" stroke-width="0.2">337.50</text>
<rect x="475" y="248.8" width="1.8" height="1.8" fill="#111"/>
<text x="459.4" y="256.2" font-family="Liberation Sans" font-size="7.0" font-weight="normal" fill="#2c2c2c" text-anchor="start" textLength="13.7" lengthAdjust="spacingAndGlyphs" stroke="#2c2c2c" stroke-width="0.2">225.00</text>
<rect x="502.2" y="268.7" width="1.8" height="1.8" fill="#111"/>
<text x="486.7" y="276.1" font-family="Liberation Sans" font-size="7.0" font-weight="normal" fill="#2c2c2c" text-anchor="start" textLength="13.7" lengthAdjust="spacingAndGlyphs" stroke="#2c2c2c" stroke-width="0.2">112.50</text>
<rect x="529.5" y="288.7" width="1.8" height="1.8" fill="#111"/>
<text x="518.9" y="296.1" font-family="Liberation Sans" font-size="7.0" font-weight="normal" fill="#2c2c2c" text-anchor="start" textLength="8.7" lengthAdjust="spacingAndGlyphs" stroke="#2c2c2c" stroke-width="0.2">0.00</text>
<rect x="529.5" y="288.7" width="1.8" height="1.8" fill="#111"/>
<text x="533.2" y="296.1" font-family="Liberation Sans" font-size="7.0" font-weight="normal" fill="#2c2c2c" text-anchor="start" textLength="15.7" lengthAdjust="spacingAndGlyphs" stroke="#2c2c2c" stroke-width="0.2">1000.00</text>
<rect x="556.6" y="268.8" width="1.8" height="1.8" fill="#111"/>
<text x="560.3" y="276.2" font-family="Liberation Sans" font-size="7.0" font-weight="normal" fill="#2c2c2c" text-anchor="start" textLength="15.7" lengthAdjust="spacingAndGlyphs" stroke="#2c2c2c" stroke-width="0.2">1250.00</text>
<rect x="583.7" y="249" width="1.8" height="1.8" fill="#111"/>
<text x="587.4" y="256.4" font-family="Liberation Sans" font-size="7.0" font-weight="normal" fill="#2c2c2c" text-anchor="start" textLength="15.7" lengthAdjust="spacingAndGlyphs" stroke="#2c2c2c" stroke-width="0.2">1500.00</text>
<rect x="610.8" y="229.1" width="1.8" height="1.8" fill="#111"/>
<text x="614.5" y="236.5" font-family="Liberation Sans" font-size="7.0" font-weight="normal" fill="#2c2c2c" text-anchor="start" textLength="15.7" lengthAdjust="spacingAndGlyphs" stroke="#2c2c2c" stroke-width="0.2">1750.00</text>
<rect x="637.9" y="209.2" width="1.8" height="1.8" fill="#111"/>
<text x="641.6" y="216.6" font-family="Liberation Sans" font-size="7.0" font-weight="normal" fill="#2c2c2c" text-anchor="start" textLength="15.7" lengthAdjust="spacingAndGlyphs" stroke="#2c2c2c" stroke-width="0.2">2000.00</text>
<text x="406.6" y="282.1" font-family="Liberation Sans" font-size="11.3" font-weight="normal" fill="#2c2c2c" text-anchor="start" textLength="56.7" lengthAdjust="spacingAndGlyphs" stroke="#2c2c2c" stroke-width="0.2">A: Aging Condition</text>
<text x="596.6" y="282.1" font-family="Liberation Sans" font-size="11.3" font-weight="normal" fill="#2c2c2c" text-anchor="start" textLength="56.7" lengthAdjust="spacingAndGlyphs" stroke="#2c2c2c" stroke-width="0.2">C: Sliding Distance</text>
<text transform="translate(376.9,166.3) scale(0.62,1) rotate(-90)" font-family="Liberation Sans" font-size="11.3" font-weight="normal" fill="#2c2c2c" text-anchor="start" textLength="46.9" lengthAdjust="spacingAndGlyphs" stroke="#2c2c2c" stroke-width="0.2">Wear rate</text>
<text x="609.9" y="13.4" font-family="Liberation Serif" font-size="15.5" font-weight="bold" fill="#b01c22" text-anchor="start" textLength="15.8" lengthAdjust="spacingAndGlyphs" stroke="#b01c22" stroke-width="0.3">(b)</text>
<line x1="237" y1="377.6" x2="374.7" y2="321.2" stroke="#2a2a2a" stroke-width="1.0"/>
<line x1="374.7" y1="321.2" x2="512.7" y2="377.9" stroke="#2a2a2a" stroke-width="1.0"/>
<line x1="374.7" y1="321.2" x2="374.7" y2="325" stroke="#777" stroke-width="1.0"/>
<line x1="512.7" y1="377.9" x2="498.5" y2="523.5" stroke="#2a2a2a" stroke-width="0.9"/>
<polygon points="251,523.3 374.7,604 498.5,523.5 377,462.5" fill="#ffff00" stroke="#333300" stroke-width="1.1"/>
<line x1="255.2" y1="519.4" x2="492" y2="527.4" stroke="#48c070" stroke-width="1.1"/>
<line x1="362.8" y1="596.1" x2="385.2" y2="597.4" stroke="#333300" stroke-width="0.9"/>
<polygon points="374.7,324.3 407.8,351.6 374.9,381.5 341.9,353" fill="url(#gc0_0)" stroke="url(#gc0_0)" stroke-width="0.7"/>
<polygon points="341.9,353 374.9,381.5 341.9,411.4 309,381.8" fill="url(#gc0_1)" stroke="url(#gc0_1)" stroke-width="0.7"/>
<polygon points="309,381.8 341.9,411.4 309,441.2 276.1,410.5" fill="url(#gc0_2)" stroke="url(#gc0_2)" stroke-width="0.7"/>
<polygon points="276.1,410.5 309,441.2 276.1,471.1 243.3,439.2" fill="url(#gc0_3)" stroke="url(#gc0_3)" stroke-width="0.7"/>
<polygon points="407.8,351.6 440.8,379 407.8,410 374.9,381.5" fill="url(#gc1_0)" stroke="url(#gc1_0)" stroke-width="0.7"/>
<polygon points="374.9,381.5 407.8,410 374.9,441 341.9,411.4" fill="url(#gc1_1)" stroke="url(#gc1_1)" stroke-width="0.7"/>
<polygon points="341.9,411.4 374.9,441 341.9,472 309,441.2" fill="url(#gc1_2)" stroke="url(#gc1_2)" stroke-width="0.7"/>
<polygon points="309,441.2 341.9,472 309,503 276.1,471.1" fill="url(#gc1_3)" stroke="url(#gc1_3)" stroke-width="0.7"/>
<polygon points="440.8,379 473.8,406.3 440.8,438.4 407.8,410" fill="url(#gc2_0)" stroke="url(#gc2_0)" stroke-width="0.7"/>
<polygon points="407.8,410 440.8,438.4 407.9,470.6 374.9,441" fill="url(#gc2_1)" stroke="url(#gc2_1)" stroke-width="0.7"/>
<polygon points="374.9,441 407.9,470.6 374.9,502.7 341.9,472" fill="url(#gc2_2)" stroke="url(#gc2_2)" stroke-width="0.7"/>
<polygon points="341.9,472 374.9,502.7 341.9,534.9 309,503" fill="url(#gc2_3)" stroke="url(#gc2_3)" stroke-width="0.7"/>
<polygon points="473.8,406.3 506.9,433.6 473.8,466.9 440.8,438.4" fill="url(#gc3_0)" stroke="url(#gc3_0)" stroke-width="0.7"/>
<polygon points="440.8,438.4 473.8,466.9 440.8,500.2 407.9,470.6" fill="url(#gc3_1)" stroke="url(#gc3_1)" stroke-width="0.7"/>
<polygon points="407.9,470.6 440.8,500.2 407.8,533.5 374.9,502.7" fill="url(#gc3_2)" stroke="url(#gc3_2)" stroke-width="0.7"/>
<polygon points="374.9,502.7 407.8,533.5 374.7,566.8 341.9,534.9" fill="url(#gc3_3)" stroke="url(#gc3_3)" stroke-width="0.7"/>
<path d="M378 327L246.6 442.4M381.3 329.8L249.9 445.6M384.6 332.5L253.2 448.8M387.9 335.2L256.4 452M391.2 338L259.7 455.1M394.5 340.7L263 458.3M397.8 343.4L266.3 461.5M401.1 346.2L269.6 464.7M404.4 348.9L272.9 467.9M407.8 351.6L276.1 471.1M411.1 354.4L279.4 474.3M414.4 357.1L282.7 477.5M417.7 359.8L286 480.7M421 362.6L289.3 483.9M424.3 365.3L292.6 487M427.6 368L295.9 490.2M430.9 370.8L299.1 493.4M434.2 373.5L302.4 496.6M437.5 376.2L305.7 499.8M440.8 379L309 503M444.1 381.7L312.3 506.2M447.4 384.4L315.6 509.4M450.7 387.1L318.9 512.6M454 389.9L322.1 515.8M457.3 392.6L325.4 518.9M460.6 395.3L328.7 522.1M463.9 398.1L332 525.3M467.2 400.8L335.3 528.5M470.5 403.5L338.6 531.7M473.8 406.3L341.9 534.9M477.2 409L345.1 538.1M480.5 411.7L348.4 541.3M483.8 414.5L351.7 544.5M487.1 417.2L355 547.7M490.4 419.9L358.3 550.8M493.7 422.7L361.6 554M497 425.4L364.8 557.2M500.3 428.1L368.1 560.4M503.6 430.9L371.4 563.6" stroke="#003018" stroke-width="0.75" stroke-opacity="0.7" fill="none"/>
<path d="M371.4 327.2L503.6 436.9M368.1 330L500.3 440.3M364.8 332.9L497 443.6M361.6 335.8L493.7 446.9M358.3 338.7L490.4 450.2M355 341.5L487.1 453.6M351.7 344.4L483.8 456.9M348.4 347.3L480.5 460.2M345.1 350.2L477.2 463.6M341.9 353L473.8 466.9M338.6 355.9L470.5 470.2M335.3 358.8L467.2 473.6M332 361.6L463.9 476.9M328.7 364.5L460.6 480.2M325.4 367.4L457.3 483.6M322.1 370.3L454 486.9M318.9 373.1L450.7 490.2M315.6 376L447.4 493.5M312.3 378.9L444.1 496.9M309 381.8L440.8 500.2M305.7 384.6L437.5 503.5M302.4 387.5L434.2 506.9M299.1 390.4L430.9 510.2M295.9 393.2L427.6 513.5M292.6 396.1L424.3 516.9M289.3 399L421 520.2M286 401.9L417.7 523.5M282.7 404.7L414.4 526.8M279.4 407.6L411.1 530.2M276.1 410.5L407.8 533.5M272.9 413.3L404.4 536.8M269.6 416.2L401.1 540.2M266.3 419.1L397.8 543.5M263 422L394.5 546.8M259.7 424.8L391.2 550.1M256.4 427.7L387.9 553.5M253.2 430.6L384.6 556.8M249.9 433.5L381.3 560.1M246.6 436.3L378 563.5" stroke="#003018" stroke-width="0.75" stroke-opacity="0.7" fill="none"/>
<polygon points="374.7,324.3 506.9,433.6 374.7,566.8 243.3,439.2" fill="none" stroke="#003018" stroke-width="0.7"/>
<line x1="237" y1="377.6" x2="251" y2="523.3" stroke="#2a2a2a" stroke-width="0.9"/>
<rect x="236.1" y="376.7" width="1.8" height="1.8" fill="#111"/>
<text x="217.2" y="384.5" font-family="Liberation Sans" font-size="7.6" font-weight="normal" fill="#202020" text-anchor="start" textLength="17.2" lengthAdjust="spacingAndGlyphs" stroke="#202020" stroke-width="0.32">0.0069</text>
<rect x="238.5" y="404.8" width="1.8" height="1.8" fill="#111"/>
<text x="213.3" y="412.6" font-family="Liberation Sans" font-size="7.6" font-weight="normal" fill="#202020" text-anchor="start" textLength="23.5" lengthAdjust="spacingAndGlyphs" stroke="#202020" stroke-width="0.32">0.006125</text>
<rect x="241.4" y="432.9" width="1.8" height="1.8" fill="#111"/>
<text x="219.4" y="440.7" font-family="Liberation Sans" font-size="7.6" font-weight="normal" fill="#202020" text-anchor="start" textLength="20.3" lengthAdjust="spacingAndGlyphs" stroke="#202020" stroke-width="0.32">0.00535</text>
<rect x="243.9" y="460.4" width="1.8" height="1.8" fill="#111"/>
<text x="218.7" y="468.2" font-family="Liberation Sans" font-size="7.6" font-weight="normal" fill="#202020" text-anchor="start" textLength="23.5" lengthAdjust="spacingAndGlyphs" stroke="#202020" stroke-width="0.32">0.004575</text>
<rect x="246.2" y="487.9" width="1.8" height="1.8" fill="#111"/>
<text x="227.3" y="495.7" font-family="Liberation Sans" font-size="7.6" font-weight="normal" fill="#202020" text-anchor="start" textLength="17.2" lengthAdjust="spacingAndGlyphs" stroke="#202020" stroke-width="0.32">0.0038</text>
<rect x="250.1" y="522.4" width="1.8" height="1.8" fill="#111"/>
<text x="229.8" y="530.2" font-family="Liberation Sans" font-size="7.6" font-weight="normal" fill="#202020" text-anchor="start" textLength="18.4" lengthAdjust="spacingAndGlyphs" stroke="#202020" stroke-width="0.32">2000.00</text>
<rect x="281" y="542.6" width="1.8" height="1.8" fill="#111"/>
<text x="260.7" y="550.4" font-family="Liberation Sans" font-size="7.6" font-weight="normal" fill="#202020" text-anchor="start" textLength="18.4" lengthAdjust="spacingAndGlyphs" stroke="#202020" stroke-width="0.32">1750.00</text>
<rect x="312" y="562.8" width="1.8" height="1.8" fill="#111"/>
<text x="291.6" y="570.6" font-family="Liberation Sans" font-size="7.6" font-weight="normal" fill="#202020" text-anchor="start" textLength="18.4" lengthAdjust="spacingAndGlyphs" stroke="#202020" stroke-width="0.32">1500.00</text>
<rect x="342.9" y="582.9" width="1.8" height="1.8" fill="#111"/>
<text x="322.6" y="590.8" font-family="Liberation Sans" font-size="7.6" font-weight="normal" fill="#202020" text-anchor="start" textLength="18.4" lengthAdjust="spacingAndGlyphs" stroke="#202020" stroke-width="0.32">1250.00</text>
<rect x="373.8" y="603.1" width="1.8" height="1.8" fill="#111"/>
<text x="353.5" y="610.9" font-family="Liberation Sans" font-size="7.6" font-weight="normal" fill="#202020" text-anchor="start" textLength="18.4" lengthAdjust="spacingAndGlyphs" stroke="#202020" stroke-width="0.32">1000.00</text>
<rect x="373.8" y="603.1" width="1.8" height="1.8" fill="#111"/>
<text x="377.5" y="610.9" font-family="Liberation Sans" font-size="7.6" font-weight="normal" fill="#202020" text-anchor="start" textLength="12.7" lengthAdjust="spacingAndGlyphs" stroke="#202020" stroke-width="0.32">10.00</text>
<rect x="404.8" y="583" width="1.8" height="1.8" fill="#111"/>
<text x="408.4" y="590.8" font-family="Liberation Sans" font-size="7.6" font-weight="normal" fill="#202020" text-anchor="start" textLength="12.7" lengthAdjust="spacingAndGlyphs" stroke="#202020" stroke-width="0.32">15.00</text>
<rect x="435.7" y="562.9" width="1.8" height="1.8" fill="#111"/>
<text x="439.4" y="570.7" font-family="Liberation Sans" font-size="7.6" font-weight="normal" fill="#202020" text-anchor="start" textLength="12.7" lengthAdjust="spacingAndGlyphs" stroke="#202020" stroke-width="0.32">20.00</text>
<rect x="466.7" y="542.7" width="1.8" height="1.8" fill="#111"/>
<text x="470.4" y="550.6" font-family="Liberation Sans" font-size="7.6" font-weight="normal" fill="#202020" text-anchor="start" textLength="12.7" lengthAdjust="spacingAndGlyphs" stroke="#202020" stroke-width="0.32">25.00</text>
<rect x="497.6" y="522.6" width="1.8" height="1.8" fill="#111"/>
<text x="501.3" y="530.4" font-family="Liberation Sans" font-size="7.6" font-weight="normal" fill="#202020" text-anchor="start" textLength="12.7" lengthAdjust="spacingAndGlyphs" stroke="#202020" stroke-width="0.32">30.00</text>
<text x="233.9" y="596.7" font-family="Liberation Sans" font-size="11.3" font-weight="normal" fill="#202020" text-anchor="start" textLength="64.7" lengthAdjust="spacingAndGlyphs" stroke="#202020" stroke-width="0.32">C: Sliding Distance</text>
<text x="469.4" y="596.5" font-family="Liberation Sans" font-size="11.3" font-weight="normal" fill="#202020" text-anchor="start" textLength="26.6" lengthAdjust="spacingAndGlyphs" stroke="#202020" stroke-width="0.32">B: Load</text>
<text transform="translate(200.6,478.4) scale(0.8,1) rotate(-90)" font-family="Liberation Sans" font-size="11.3" font-weight="normal" fill="#202020" text-anchor="start" textLength="47.6" lengthAdjust="spacingAndGlyphs" stroke="#202020" stroke-width="0.32">Wear rate</text>
<text x="491" y="332" font-family="Liberation Serif" font-size="18.3" font-weight="bold" fill="#c40c10" text-anchor="start" textLength="16.4" lengthAdjust="spacingAndGlyphs" stroke="#c40c10" stroke-width="0.35">(c)</text>
</svg>
</body></html>
